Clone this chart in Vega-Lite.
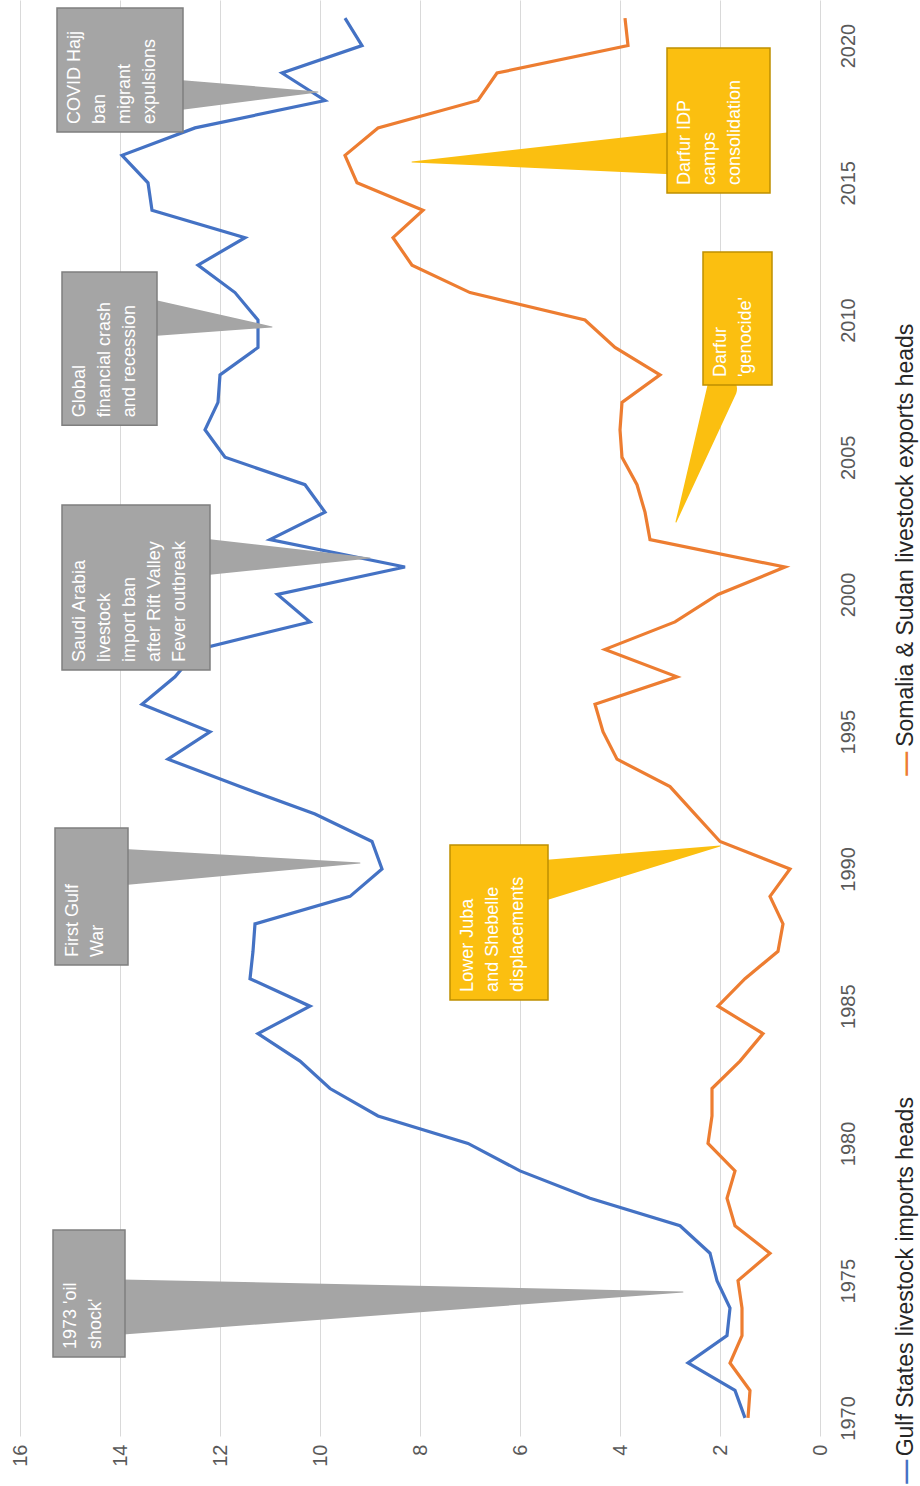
{
  "$schema": "https://vega.github.io/schema/vega-lite/v6.json",
  "width": 820,
  "height": 1436,
  "autosize": "none",
  "padding": {"left": 0, "top": 0, "right": 100, "bottom": 50},
  "background": "white",
  "config": {"font": "Liberation Sans", "view": {"stroke": null}},
  "datasets": {
    "gulf": [1.5,1.7,2.64,1.86,1.8,2.06,2.2,2.8,4.6,6.0,7.04,8.84,9.8,10.4,11.24,10.2,11.4,11.34,11.3,9.4,8.76,8.96,10.1,11.6,13.04,12.2,13.56,12.9,12.44,10.2,10.85,8.3,11.0,9.9,10.3,11.9,12.3,12.04,12.0,11.24,11.24,11.7,12.44,11.5,13.36,13.44,13.96,12.5,9.9,10.76,9.16,9.5],
    "soma": [1.44,1.4,1.8,1.56,1.56,1.64,1.0,1.7,1.86,1.7,2.24,2.16,2.16,1.6,1.14,2.04,1.5,0.84,0.74,1.0,0.6,2.0,2.5,3.0,4.06,4.34,4.5,2.86,4.3,2.9,2.04,0.7,3.4,3.5,3.66,3.96,4.0,3.96,3.2,4.1,4.7,7.0,8.16,8.54,7.94,9.26,9.5,8.84,6.84,6.46,3.84,3.9],
    "boxes": [
      {"id": 1, "kind": "grey", "v": 15.34, "v2": 13.9, "yr": 1976.85, "yr2": 1972.22, "label": "1973 'oil\nshock'"},
      {"id": 2, "kind": "grey", "v": 15.3, "v2": 13.84, "yr": 1991.49, "yr2": 1986.5, "label": "First Gulf\nWar"},
      {"id": 3, "kind": "grey", "v": 15.16, "v2": 12.2, "yr": 2003.26, "yr2": 1997.25, "label": "Saudi Arabia\nlivestock\nimport ban\nafter Rift Valley\nFever outbreak"},
      {"id": 4, "kind": "grey", "v": 15.16, "v2": 13.26, "yr": 2011.75, "yr2": 2006.17, "label": "Global\nfinancial crash\nand recession"},
      {"id": 5, "kind": "grey", "v": 15.26, "v2": 12.74, "yr": 2021.37, "yr2": 2016.85, "label": "COVID Hajj\nban\nmigrant\nexpulsions"},
      {"id": 6, "kind": "gold", "v": 7.4, "v2": 5.44, "yr": 1990.87, "yr2": 1985.23, "label": "Lower Juba\nand Shebelle\ndisplacements"},
      {"id": 7, "kind": "gold", "v": 3.06, "v2": 1.0, "yr": 2019.91, "yr2": 2014.63, "label": "Darfur IDP\ncamps\nconsolidation"},
      {"id": 8, "kind": "gold", "v": 2.34, "v2": 0.96, "yr": 2012.48, "yr2": 2007.63, "label": "Darfur\n'genocide'"}
    ],
    "wedges": [
      {"id": 1, "kind": "grey", "o": 0, "v": 13.95, "yr": 1974.04, "w": 55},
      {"id": 1, "kind": "grey", "o": 1, "v": 2.74, "yr": 1974.59, "w": 0},
      {"id": 2, "kind": "grey", "o": 0, "v": 13.9, "yr": 1990.07, "w": 36},
      {"id": 2, "kind": "grey", "o": 1, "v": 9.2, "yr": 1990.22, "w": 0},
      {"id": 3, "kind": "grey", "o": 0, "v": 12.25, "yr": 2001.37, "w": 36},
      {"id": 3, "kind": "grey", "o": 1, "v": 9.0, "yr": 2001.33, "w": 0},
      {"id": 4, "kind": "grey", "o": 0, "v": 13.3, "yr": 2010.07, "w": 36},
      {"id": 4, "kind": "grey", "o": 1, "v": 10.96, "yr": 2009.75, "w": 0},
      {"id": 5, "kind": "grey", "o": 0, "v": 12.8, "yr": 2018.2, "w": 30},
      {"id": 5, "kind": "grey", "o": 1, "v": 10.04, "yr": 2018.31, "w": 0},
      {"id": 6, "kind": "gold", "o": 0, "v": 5.5, "yr": 1989.6, "w": 40},
      {"id": 6, "kind": "gold", "o": 1, "v": 2.0, "yr": 1990.84, "w": 0},
      {"id": 7, "kind": "gold", "o": 0, "v": 3.0, "yr": 2016.08, "w": 42},
      {"id": 7, "kind": "gold", "o": 1, "v": 8.16, "yr": 2015.76, "w": 0},
      {"id": 8, "kind": "gold", "o": 0, "v": 1.96, "yr": 2007.5, "w": 30},
      {"id": 8, "kind": "gold", "o": 1, "v": 2.88, "yr": 2002.64, "w": 0}
    ],
    "legend": [
      {"v": -1.72, "yr": 1967.6, "sym": "—", "series": "Gulf", "yrText": 1968.6, "label": "Gulf States livestock imports heads"},
      {"v": -1.72, "yr": 1993.4, "sym": "—", "series": "Soma", "yrText": 1994.45, "label": "Somalia & Sudan livestock exports heads"}
    ]
  },
  "resolve": {"scale": {"color": "independent", "stroke": "independent"}},
  "encoding": {
    "x": {
      "field": "v", "type": "quantitative",
      "scale": {"domain": [0, 16.4], "reverse": true, "nice": false, "zero": false},
      "axis": {"values": [0,2,4,6,8,10,12,14,16], "title": null, "labelAngle": -90, "labelAlign": "right", "labelBaseline": "middle", "labelFontSize": 20, "labelColor": "#595959", "labelPadding": 8, "grid": true, "gridColor": "#d9d9d9", "ticks": false, "domain": false}
    },
    "y": {
      "field": "yr", "type": "quantitative",
      "scale": {"domain": [1969.34, 2021.66], "nice": false, "zero": false},
      "axis": {"orient": "right", "values": [1970,1975,1980,1985,1990,1995,2000,2005,2010,2015,2020], "format": "d", "title": null, "labelAngle": -90, "labelAlign": "center", "labelBaseline": "middle", "labelFontSize": 20, "labelColor": "#595959", "labelPadding": 28, "grid": false, "ticks": false, "domain": false}
    }
  },
  "layer": [
    {
      "data": {"name": "gulf"},
      "transform": [{"window": [{"op": "row_number", "as": "i"}]}, {"calculate": "1969 + datum.i", "as": "yr"}, {"calculate": "datum.data", "as": "v"}],
      "mark": {"type": "line", "color": "#4472c4", "strokeWidth": 3.2},
      "encoding": {"order": {"field": "yr"}}
    },
    {
      "data": {"name": "soma"},
      "transform": [{"window": [{"op": "row_number", "as": "i"}]}, {"calculate": "1969 + datum.i", "as": "yr"}, {"calculate": "datum.data", "as": "v"}],
      "mark": {"type": "line", "color": "#ed7d31", "strokeWidth": 3.2},
      "encoding": {"order": {"field": "yr"}}
    },
    {
      "data": {"name": "wedges"},
      "mark": {"type": "trail"},
      "encoding": {
        "detail": {"field": "id"},
        "order": {"field": "o"},
        "size": {"field": "w", "type": "quantitative", "scale": {"domain": [0, 60], "range": [0, 60], "zero": true}, "legend": null},
        "color": {"field": "kind", "scale": {"domain": ["grey", "gold"], "range": ["#a5a5a5", "#fbbf10"]}, "legend": null}
      }
    },
    {
      "data": {"name": "boxes"},
      "mark": {"type": "rect", "strokeWidth": 1.5},
      "encoding": {
        "x2": {"field": "v2"},
        "y2": {"field": "yr2"},
        "color": {"field": "kind", "scale": {"domain": ["grey", "gold"], "range": ["#a5a5a5", "#fbbf10"]}, "legend": null},
        "stroke": {"field": "kind", "scale": {"domain": ["grey", "gold"], "range": ["#7f7f7f", "#bf9000"]}, "legend": null}
      }
    },
    {
      "data": {"name": "boxes"},
      "mark": {"type": "text", "angle": 270, "align": "left", "baseline": "top", "color": "white", "fontSize": 18, "lineHeight": 25, "lineBreak": "\n", "dx": 8, "dy": 9},
      "encoding": {
        "y": {"field": "yr2", "type": "quantitative"},
        "text": {"field": "label"}
      }
    },
    {
      "data": {"name": "legend"},
      "mark": {"type": "text", "angle": 270, "align": "left", "baseline": "middle", "fontSize": 24, "fontWeight": "bold"},
      "encoding": {
        "text": {"field": "sym"},
        "color": {"field": "series", "scale": {"domain": ["Gulf", "Soma"], "range": ["#4472c4", "#ed7d31"]}, "legend": null}
      }
    },
    {
      "data": {"name": "legend"},
      "mark": {"type": "text", "angle": 270, "align": "left", "baseline": "middle", "fontSize": 23, "color": "#262626"},
      "encoding": {
        "y": {"field": "yrText", "type": "quantitative"},
        "text": {"field": "label"}
      }
    }
  ]
}
